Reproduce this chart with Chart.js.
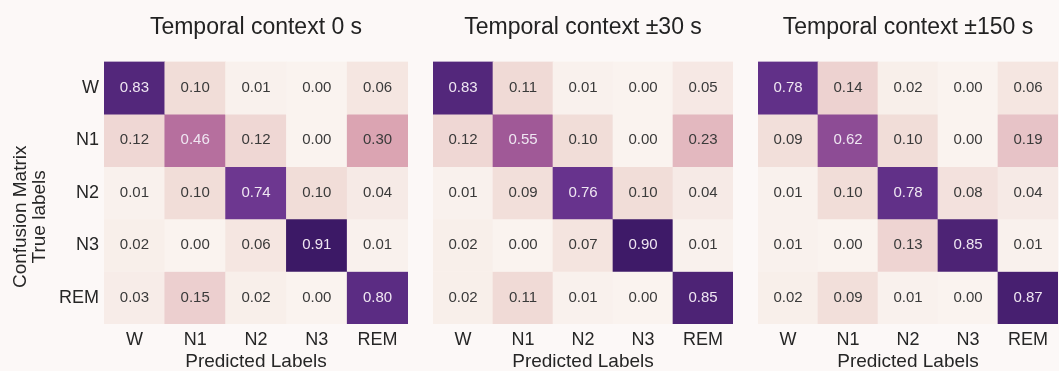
<!DOCTYPE html>
<html>
<head>
<meta charset="utf-8">
<script src="https://cdn.jsdelivr.net/npm/chart.js@4.4.1/dist/chart.umd.min.js"></script>
<style>
  body { margin: 0; background: #fcf8f7; width: 1059px; height: 371px; position: relative; overflow: hidden; }
  canvas { position: absolute; top: 0; }
</style>
</head>
<body>
<canvas id="cm0" width="408" height="371" style="left:0"></canvas>
<canvas id="cm30" width="300" height="371" style="left:433px"></canvas>
<canvas id="cm150" width="300" height="371" style="left:758px"></canvas>
<script>
// sleep stages, same order on both axes
const stages = ['W', 'N1', 'N2', 'N3', 'REM'];

// rows = true label, columns = predicted label
const context0 = [
    [0.83, 0.10, 0.01, 0.00, 0.06],
    [0.12, 0.46, 0.12, 0.00, 0.30],
    [0.01, 0.10, 0.74, 0.10, 0.04],
    [0.02, 0.00, 0.06, 0.91, 0.01],
    [0.03, 0.15, 0.02, 0.00, 0.80]
];
const context30 = [
    [0.83, 0.11, 0.01, 0.00, 0.05],
    [0.12, 0.55, 0.10, 0.00, 0.23],
    [0.01, 0.09, 0.76, 0.10, 0.04],
    [0.02, 0.00, 0.07, 0.90, 0.01],
    [0.02, 0.11, 0.01, 0.00, 0.85]
];
const context150 = [
    [0.78, 0.14, 0.02, 0.00, 0.06],
    [0.09, 0.62, 0.10, 0.00, 0.19],
    [0.01, 0.10, 0.78, 0.08, 0.04],
    [0.01, 0.00, 0.13, 0.85, 0.01],
    [0.02, 0.09, 0.01, 0.00, 0.87]
];

const FONT = '"Liberation Sans", Arial, sans-serif';
Chart.defaults.font.family = FONT;
Chart.defaults.color = '#262626';

// light cream -> pink -> dark purple
const colorStops = [
    [0.00, [250, 243, 239]],
    [0.10, [241, 221, 216]],
    [0.30, [219, 164, 178]],
    [0.50, [173, 98, 153]],
    [0.75, [106, 53, 144]],
    [0.90, [62, 26, 104]],
    [1.00, [44, 16, 80]]
];

function cellColor(v) {
    for (let i = 1; i < colorStops.length; i++) {
        const [v1, c1] = colorStops[i];
        const [v0, c0] = colorStops[i - 1];
        if (v <= v1) {
            const t = (v - v0) / (v1 - v0);
            const c = c0.map((x, k) => Math.round(x + (c1[k] - x) * t));
            return `rgb(${c[0]},${c[1]},${c[2]})`;
        }
    }
    return 'rgb(44,16,80)';
}

// write the value in the middle of each cell
const cellText = {
    id: 'cellText',
    afterDatasetsDraw(chart) {
        const ctx = chart.ctx;
        ctx.save();
        ctx.font = '15px ' + FONT;
        ctx.textAlign = 'center';
        ctx.textBaseline = 'middle';
        chart.data.datasets.forEach((ds, i) => {
            chart.getDatasetMeta(i).data.forEach((bar, j) => {
                const v = ds.values[j];
                ctx.fillStyle = v > 0.4 ? '#efe6f2' : '#3a3a3a';
                ctx.fillText(v.toFixed(2), bar.x, (bar.y + bar.base) / 2);
            });
        });
        ctx.restore();
    }
};

// two-line rotated y title, sits a bit below the middle like the original
const yTitle = {
    id: 'yTitle',
    afterDraw(chart, args, opts) {
        if (!opts.lines) return;
        const ctx = chart.ctx;
        const cy = (chart.chartArea.top + chart.chartArea.bottom) / 2 + opts.shift;
        ctx.save();
        ctx.font = '19px ' + FONT;
        ctx.fillStyle = '#262626';
        ctx.textAlign = 'center';
        ctx.textBaseline = 'middle';
        opts.lines.forEach((line, i) => {
            ctx.save();
            ctx.translate(opts.x + i * 19, cy);
            ctx.rotate(-Math.PI / 2);
            ctx.fillText(line, 0, 0);
            ctx.restore();
        });
        ctx.restore();
    }
};

function drawMatrix(id, title, matrix, showY) {
    new Chart(document.getElementById(id), {
        type: 'bar',
        data: {
            labels: stages,
            datasets: matrix.map((row, r) => ({
                label: stages[r],
                values: row,
                data: row.map(() => [r, r + 1]),
                backgroundColor: row.map(cellColor),
                borderWidth: 0,
                grouped: false,
                barPercentage: 1,
                categoryPercentage: 1
            }))
        },
        options: {
            responsive: false,
            animation: false,
            events: [],
            layout: { padding: 0 },
            plugins: {
                legend: { display: false },
                tooltip: { enabled: false },
                title: {
                    display: true,
                    text: title,
                    fullSize: false,
                    color: '#222',
                    font: { size: 23, weight: 'normal', lineHeight: 1.2 },
                    padding: { top: 14, bottom: 20 }
                },
                yTitle: showY ? { lines: ['Confusion Matrix', 'True labels'], x: 21, shift: 24 } : {}
            },
            scales: {
                x: {
                    grid: { display: false, drawTicks: false },
                    border: { display: false },
                    ticks: { font: { size: 18 }, padding: 5, color: '#262626', maxRotation: 0 },
                    title: {
                        display: true,
                        text: 'Predicted Labels',
                        color: '#262626',
                        font: { size: 19, lineHeight: 1 },
                        padding: { top: 0, bottom: 0 }
                    },
                    afterFit(scale) { scale.height = 47; }
                },
                y: {
                    type: 'linear',
                    display: showY,
                    min: 0,
                    max: 5,
                    reverse: true,
                    grid: { display: false, drawTicks: false },
                    border: { display: false },
                    afterBuildTicks(scale) {
                        scale.ticks = stages.map((s, i) => ({ value: i + 0.5 }));
                    },
                    ticks: {
                        autoSkip: false,
                        font: { size: 18 },
                        padding: 5,
                        color: '#262626',
                        callback: (v) => stages[Math.floor(v)]
                    },
                    afterFit(scale) { scale.width = showY ? 104 : 0; }
                }
            }
        },
        plugins: [cellText, yTitle]
    });
}

drawMatrix('cm0', 'Temporal context 0 s', context0, true);
drawMatrix('cm30', 'Temporal context ±30 s', context30, false);
drawMatrix('cm150', 'Temporal context ±150 s', context150, false);
</script>
</body>
</html>
